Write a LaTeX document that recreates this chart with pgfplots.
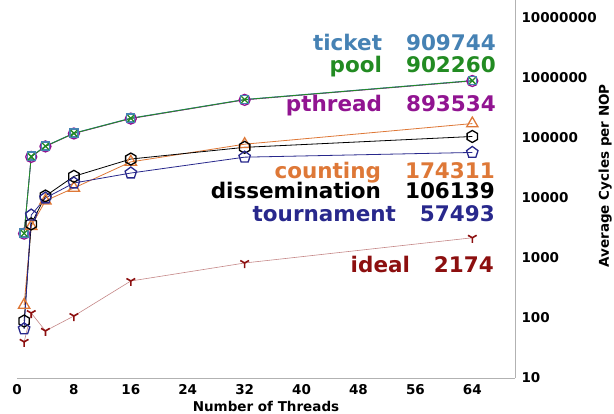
\documentclass[border=0pt]{standalone}
\usepackage{fontspec}
\setmainfont{DejaVu Sans}
\usepackage{pgfplots}
\pgfplotsset{compat=1.18}
\usetikzlibrary{plotmarks}

% pointy-top hexagon mark
\pgfdeclareplotmark{hexagon}{%
  \pgfpathmoveto{\pgfqpointpolar{90}{\pgfplotmarksize}}%
  \pgfpathlineto{\pgfqpointpolar{150}{\pgfplotmarksize}}%
  \pgfpathlineto{\pgfqpointpolar{210}{\pgfplotmarksize}}%
  \pgfpathlineto{\pgfqpointpolar{270}{\pgfplotmarksize}}%
  \pgfpathlineto{\pgfqpointpolar{330}{\pgfplotmarksize}}%
  \pgfpathlineto{\pgfqpointpolar{30}{\pgfplotmarksize}}%
  \pgfpathclose
  \pgfusepathqstroke}

\definecolor{cticket}{RGB}{70,130,180}
\definecolor{cpool}{RGB}{34,139,34}
\definecolor{cpthread}{RGB}{145,20,145}
\definecolor{ccount}{RGB}{222,120,55}
\definecolor{cdiss}{RGB}{0,0,0}
\definecolor{ctour}{RGB}{40,40,140}
\definecolor{cideal}{RGB}{140,15,15}

\begin{document}
\begin{tikzpicture}
\begin{axis}[
  scale only axis, width=498pt, height=378pt,
  at={(0,0)}, anchor=south west,
  xmin=0, xmax=70, ymode=log, ymin=10, ymax=2e7,
  axis x line*=bottom, axis y line*=right,
  axis line style={color=gray!60, line width=1pt},
  xtick={0,8,16,24,32,40,48,56,64},
  xticklabels={0,8,16,24,32,40,48,56,64},
  ytick={10,100,1000,10000,100000,1000000,10000000},
  yticklabels={10,100,1000,10000,100000,1000000,10000000},
  major tick length=0pt, minor tick length=0pt,
  ticklabel style={font=\fontsize{13.5}{16}\selectfont\bfseries},
  yticklabel style={anchor=west, xshift=3pt},
  xticklabel style={yshift=-3pt},
  xlabel={Number of Threads}, ylabel={Average Cycles per NOP},
  label style={font=\fontsize{13.5}{16}\selectfont\bfseries},
  xlabel style={at={(axis description cs:0.5,-0.074)}, anchor=center},
  ylabel style={at={(axis description cs:1.181,0.535)}, anchor=center},
  clip=false,
  every axis plot/.append style={line width=0.8pt, mark options={solid, line width=1.3pt, fill=none}},
]
% pthread
\addplot[color=cpthread, mark=o, mark size=5.5pt] coordinates {
  (1,2550) (2,48500) (4,72500) (8,119000) (16,211000) (32,433000) (64,893534)};
% ticket
\addplot[color=cticket, mark=square, mark size=4pt] coordinates {
  (1,2610) (2,50000) (4,73600) (8,121000) (16,215000) (32,440000) (64,909744)};
% pool
\addplot[color=cpool, mark=x, mark size=4.5pt] coordinates {
  (1,2580) (2,49000) (4,73000) (8,120000) (16,213000) (32,437000) (64,902260)};
% counting
\addplot[color=ccount, mark=triangle, mark size=6.5pt] coordinates {
  (1,165) (2,3400) (4,9000) (8,14700) (16,40000) (32,79000) (64,174311)};
% dissemination
\addplot[color=cdiss, mark=hexagon, mark size=6pt] coordinates {
  (1,89) (2,3700) (4,10800) (8,23000) (16,44700) (32,70000) (64,106139)};
% tournament
\addplot[color=ctour, mark=pentagon, mark size=6pt] coordinates {
  (1,66) (2,5200) (4,10000) (8,17800) (16,26100) (32,48000) (64,57493)};
% ideal
\addplot[color=cideal!50, line width=0.6pt, mark=Mercedes star flipped, mark size=5pt,
  mark options={color=cideal, line width=1.6pt}] coordinates {
  (1,40) (2,121) (4,61) (8,108) (16,414) (32,826) (64,2174)};
\end{axis}
% final values, one line per series
\begin{scope}[every node/.style={anchor=base east, inner sep=0pt,
    font=\fontsize{21.5}{25}\selectfont\bfseries}]
  \node[text=cticket]  at (479pt,327pt) {ticket\hspace{24pt}909744};
  \node[text=cpool]    at (479pt,305pt) {pool\hspace{24pt}902260};
  \node[text=cpthread] at (479pt,266pt) {pthread\hspace{24pt}893534};
  \node[text=ccount]   at (478pt,199pt) {counting\hspace{24pt}174311};
  \node[text=cdiss]    at (478pt,179pt) {dissemination\hspace{24pt}106139};
  \node[text=ctour]    at (478pt,157pt) {tournament\hspace{24pt}57493};
  \node[text=cideal]   at (477pt,106pt) {ideal\hspace{24pt}2174};
\end{scope}
\pgfresetboundingbox
\path (-17pt,-35pt) rectangle (597pt,378pt);
\end{tikzpicture}
\end{document}
